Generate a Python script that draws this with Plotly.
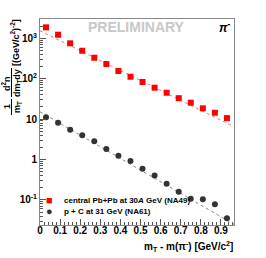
import plotly.graph_objects as go

# ---- data ----
mt = [0.03, 0.09, 0.15, 0.21, 0.27, 0.33, 0.39, 0.45, 0.51, 0.57, 0.63, 0.69, 0.75, 0.81, 0.87, 0.93]
pbpb = [1870, 1227, 752, 493, 331, 231, 155, 112, 83, 60, 45, 33, 25.5, 18.5, 14.4, 10.6]
pc = [11.1, 8.15, 5.47, 3.97, 2.82, 1.82, 1.24, 0.92, 0.59, 0.40, 0.25, 0.16, 0.107, 0.104, 0.078, 0.035]
fit_x = [0.0, 0.965]
fit_pbpb = [1540, 6.5]
fit_pc = [15.2, 0.025]
xticks = [0, 0.1, 0.2, 0.3, 0.4, 0.5, 0.6, 0.7, 0.8, 0.9]
xticklabels = ["0", "0.1", "0.2", "0.3", "0.4", "0.5", "0.6", "0.7", "0.8", "0.9"]
yticks = [0.1, 1, 10, 100, 1000]
yticklabels = ["10<sup>-1</sup>", "1", "10", "10<sup>2</sup>", "10<sup>3</sup>"]

W, H = 266, 258
L, R, T, B = 40, 32, 19, 33
FONT = "Liberation Sans, Arial, sans-serif"


def px(x):
    return (x - L) / (W - L - R)


def py(y):
    return (H - B - y) / (H - T - B)


fig = go.Figure()
fig.add_trace(go.Scatter(x=fit_x, y=fit_pbpb, mode="lines",
                         line=dict(color="#f07070", width=1, dash="dot"), showlegend=False))
fig.add_trace(go.Scatter(x=fit_x, y=fit_pc, mode="lines",
                         line=dict(color="#888888", width=1, dash="dot"), showlegend=False))
fig.add_trace(go.Scatter(x=mt, y=pbpb, mode="markers",
                         marker=dict(symbol="square", size=6, color="#ff0000"), showlegend=False))
fig.add_trace(go.Scatter(x=mt, y=pc, mode="markers",
                         marker=dict(symbol="circle", size=6, color="#333333"), showlegend=False))

anns = []


def ann(x, y, text, size, color="black", angle=0, xanchor="center", weight="bold", style="normal"):
    anns.append(dict(x=px(x), y=py(y), xref="paper", yref="paper", text=text, showarrow=False,
                     textangle=angle, xanchor=xanchor, yanchor="middle",
                     font=dict(family=FONT, size=size, color=color, weight=weight, style=style)))


ann(136.5, 27.5, "PRELIMINARY", 14, color="#c8c8c8")
ann(225, 27, "π<sup>-</sup>", 12, style="italic")
# legend
ann(49.5, 200, "■", 11, color="#ff0000")
ann(49.5, 211, "●", 11, color="#333333")
ann(62, 200, "central Pb+Pb at 30<i>A</i> GeV (NA49)", 8, xanchor="left")
ann(62, 211, "p + C at 31 GeV (NA61)", 8, xanchor="left")
# x title
ann(235, 246, "m<sub>T</sub> - m(π<sup>-</sup>) [GeV/c<sup>2</sup>]", 10, xanchor="right")
# y title pieces (rotated fraction)
ann(7, 107, "1", 9, angle=-90)
ann(17, 107, "m<sub>T</sub>", 9, angle=-90)
ann(6, 84, "d<sup>2</sup>n", 9, angle=-90)
ann(17, 83, "dm<sub>T</sub>dy", 9, angle=-90)
ann(15, 43, "[(GeV/c<sup>2</sup>)<sup>-2</sup>]", 9, angle=-90)

shapes = [
    dict(type="line", xref="paper", yref="paper", x0=px(11.5), x1=px(11.5), y0=py(99), y1=py(115),
         line=dict(color="black", width=1)),
    dict(type="line", xref="paper", yref="paper", x0=px(11.5), x1=px(11.5), y0=py(68), y1=py(97),
         line=dict(color="black", width=1)),
]

fig.update_layout(
    width=W, height=H, margin=dict(l=L, r=R, t=T, b=B),
    plot_bgcolor="white", paper_bgcolor="white",
    annotations=anns, shapes=shapes, showlegend=False,
    xaxis=dict(range=[0, 0.965], tickvals=xticks, ticktext=xticklabels, ticks="inside", ticklen=6,
               tickcolor="#555", showgrid=False, zeroline=False, showline=True, linecolor="#888",
               linewidth=1, mirror=True, ticklabelstandoff=-4,
               tickfont=dict(family=FONT, size=10, color="black", weight="bold"),
               minor=dict(ticks="inside", ticklen=3, dtick=0.02, tickcolor="#555", showgrid=False)),
    yaxis=dict(type="log", range=[-1.62, 3.478], tickvals=yticks, ticktext=yticklabels,
               ticks="inside", ticklen=6, tickcolor="#555", showgrid=False, zeroline=False,
               showline=True, linecolor="#888", linewidth=1, mirror=True,
               tickfont=dict(family=FONT, size=10, color="black", weight="bold"),
               minor=dict(ticks="inside", ticklen=3, tickcolor="#555", showgrid=False,
                          tickvals=[v * m for v in [0.01, 0.1, 1, 10, 100, 1000] for m in range(2, 10)])),
)

fig.write_html("out.html", config={"displayModeBar": False},
               post_script="document.body.style.margin='0';document.body.style.overflow='hidden';")
